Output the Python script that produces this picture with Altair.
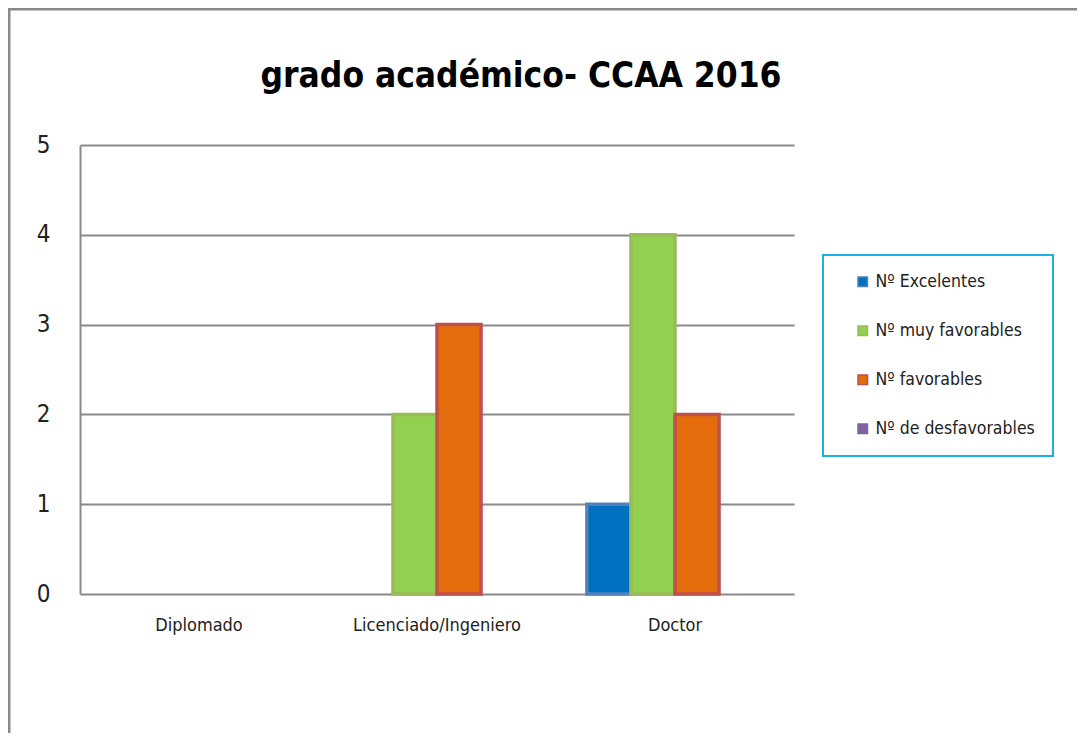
import altair as alt
import pandas as pd

categories = ["Diplomado", "Licenciado/Ingeniero", "Doctor"]
series = ["Nº Excelentes", "Nº muy favorables", "Nº favorables", "Nº de desfavorables"]
excelentes = [0, 0, 1]
muy_favorables = [0, 2, 4]
favorables = [0, 3, 2]
desfavorables = [0, 0, 0]

fills = ["#0070C0", "#92D050", "#E46C0A", "#8064A2"]
strokes = ["#4F81BD", "#9BBB59", "#C0504D", "#8064A2"]

rows = []
for name, vals in zip(series, [excelentes, muy_favorables, favorables, desfavorables]):
    for c, v in zip(categories, vals):
        rows.append({"categoria": c, "serie": name, "valor": v})
df = pd.DataFrame(rows)

FONT = "DejaVu Sans Condensed"

bars = alt.Chart(df).mark_bar(strokeWidth=3.5).encode(
    x=alt.X("categoria:N", sort=categories, title=None,
            scale=alt.Scale(paddingInner=0.26, paddingOuter=0.13),
            axis=alt.Axis(labelAngle=0, labelFontSize=18, labelFont=FONT, labelColor="#222222",
                          labelPadding=22, ticks=False, domain=False, grid=False)),
    xOffset=alt.XOffset("serie:N", sort=series,
                        scale=alt.Scale(domain=series, paddingInner=0, paddingOuter=0)),
    y=alt.Y("valor:Q", title=None,
            scale=alt.Scale(domain=[0, 5], nice=False),
            axis=alt.Axis(values=[0, 1, 2, 3, 4, 5], labelFontSize=24, labelFont=FONT,
                          labelColor="#222222", labelPadding=30, ticks=False,
                          domain=True, domainColor="#8a8a8a", domainWidth=2,
                          grid=True, gridColor="#8a8a8a", gridWidth=2)),
    color=alt.Color("serie:N", sort=series, title=None,
                    scale=alt.Scale(domain=series, range=fills),
                    legend=alt.Legend(orient="none", legendX=743, legendY=110,
                                      symbolType="square", symbolSize=90,
                                      labelFontSize=17.5, labelFont=FONT, labelColor="#222222",
                                      rowPadding=30, padding=18, symbolOffset=13,
                                      symbolStrokeWidth=1.5)),
    stroke=alt.Stroke("serie:N", sort=series, scale=alt.Scale(domain=series, range=strokes),
                      legend=None),
    strokeOpacity=alt.condition(alt.datum.valor > 0, alt.value(1), alt.value(0)),
)

frame_top = alt.Chart(pd.DataFrame({"k": [0]})).mark_rule(color="#8a8a8a", strokeWidth=3).encode(
    x=alt.value(-72), x2=alt.value(1000), y=alt.value(-136))
frame_left = alt.Chart(pd.DataFrame({"k": [0]})).mark_rule(color="#8a8a8a", strokeWidth=3).encode(
    x=alt.value(-71), y=alt.value(-136), y2=alt.value(600))

chart = alt.layer(frame_top, frame_left, bars).properties(
    width=714, height=449,
    padding={"left": 72, "top": 137, "right": 283, "bottom": 139},
    autosize=alt.AutoSizeParams(type="none"),
    title=alt.TitleParams("grado académico- CCAA 2016", font=FONT, fontSize=35,
                          fontWeight="bold", color="#000000", dx=84, offset=-86,
                          anchor="middle"),
).configure_view(stroke=None).configure_legend(
    strokeColor="#1AB0E8", strokeWidth=2, fillColor="white"
)

chart.save("out.html", embed_options={"renderer": "svg", "actions": False})
